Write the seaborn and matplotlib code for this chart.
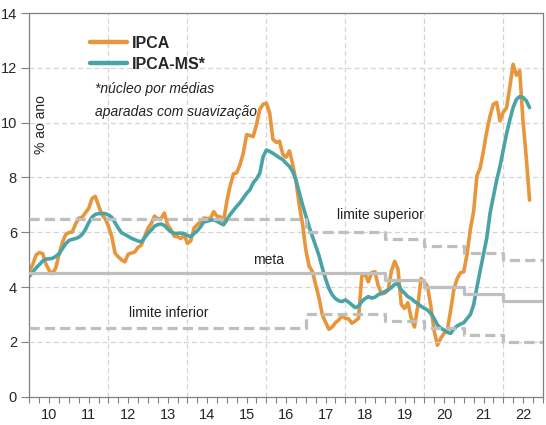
import numpy as np
import pandas as pd
import matplotlib
matplotlib.use("Agg")
import matplotlib.pyplot as plt
import seaborn as sns

# variação em 12 meses (% ao ano), mensal de jan/2010 a set/2022
ipca = [4.59, 4.83, 5.17, 5.26, 5.22, 4.84, 4.60, 4.49, 4.70, 5.20, 5.63, 5.91,
        5.99, 6.01, 6.30, 6.51, 6.55, 6.71, 6.87, 7.23, 7.31, 6.97, 6.64, 6.50,
        6.22, 5.85, 5.24, 5.10, 4.99, 4.92, 5.20, 5.24, 5.28, 5.45, 5.53, 5.84,
        6.15, 6.31, 6.59, 6.49, 6.50, 6.70, 6.27, 6.09, 5.86, 5.84, 5.77, 5.91,
        5.59, 5.68, 6.15, 6.28, 6.37, 6.52, 6.50, 6.51, 6.75, 6.59, 6.56, 6.41,
        7.14, 7.70, 8.13, 8.17, 8.47, 8.89, 9.56, 9.53, 9.49, 9.93, 10.48, 10.67,
        10.71, 10.36, 9.39, 9.28, 9.32, 8.84, 8.74, 8.97, 8.48, 7.87, 6.99, 6.29,
        5.35, 4.76, 4.57, 4.08, 3.60, 3.00, 2.71, 2.46, 2.54, 2.70, 2.80, 2.95,
        2.86, 2.84, 2.68, 2.76, 2.86, 4.39, 4.48, 4.19, 4.53, 4.56, 4.05, 3.75,
        3.78, 3.89, 4.58, 4.94, 4.66, 3.37, 3.22, 3.43, 2.89, 2.54, 3.27, 4.31,
        4.19, 4.01, 3.30, 2.40, 1.88, 2.13, 2.31, 2.44, 3.14, 3.92, 4.31, 4.52,
        4.56, 5.20, 6.10, 6.76, 8.06, 8.35, 8.99, 9.68, 10.25, 10.67, 10.74, 10.06,
        10.38, 10.54, 11.30, 12.13, 11.73, 11.89, 10.07, 8.73, 7.17]

ipca_ms = [4.40, 4.55, 4.70, 4.82, 4.95, 5.02, 5.03, 5.05, 5.12, 5.22, 5.40, 5.58,
           5.70, 5.74, 5.77, 5.82, 5.92, 6.10, 6.35, 6.55, 6.65, 6.68, 6.69, 6.68,
           6.63, 6.55, 6.35, 6.15, 5.98, 5.92, 5.85, 5.78, 5.73, 5.68, 5.65, 5.80,
           5.96, 6.08, 6.22, 6.28, 6.30, 6.25, 6.12, 6.02, 5.96, 5.96, 5.97, 5.95,
           5.88, 5.84, 5.95, 6.05, 6.20, 6.38, 6.40, 6.44, 6.45, 6.40, 6.33, 6.27,
           6.45, 6.65, 6.80, 6.95, 7.08, 7.25, 7.42, 7.55, 7.80, 7.95, 8.15, 8.75,
           9.00, 8.95, 8.88, 8.80, 8.72, 8.65, 8.52, 8.40, 8.22, 7.90, 7.45, 7.00,
           6.60, 6.20, 5.85, 5.50, 5.15, 4.70, 4.30, 3.95, 3.72, 3.58, 3.50, 3.47,
           3.53, 3.45, 3.35, 3.25, 3.30, 3.47, 3.58, 3.65, 3.60, 3.63, 3.72, 3.78,
           3.83, 3.90, 3.98, 4.10, 4.12, 3.90, 3.78, 3.65, 3.58, 3.48, 3.40, 3.30,
           3.23, 3.16, 3.04, 2.85, 2.62, 2.50, 2.43, 2.35, 2.31, 2.48, 2.58, 2.65,
           2.70, 2.85, 3.00, 3.35, 4.00, 4.60, 5.20, 5.80, 6.70, 7.30, 7.90, 8.40,
           9.00, 9.60, 10.10, 10.55, 10.85, 10.95, 10.92, 10.80, 10.55]

# metas de inflação por ano
anos_meta = [2010, 2011, 2012, 2013, 2014, 2015, 2016, 2017, 2018, 2019, 2020, 2021, 2022]
meta = [4.5, 4.5, 4.5, 4.5, 4.5, 4.5, 4.5, 4.5, 4.5, 4.25, 4.0, 3.75, 3.5]
lim_sup = [6.5, 6.5, 6.5, 6.5, 6.5, 6.5, 6.5, 6.0, 6.0, 5.75, 5.5, 5.25, 5.0]
lim_inf = [2.5, 2.5, 2.5, 2.5, 2.5, 2.5, 2.5, 3.0, 3.0, 2.75, 2.5, 2.25, 2.0]

ano_labels = ["10", "11", "12", "13", "14", "15", "16", "17", "18", "19", "20", "21", "22"]
y_ticks = [0, 2, 4, 6, 8, 10, 12, 14]

laranja = "#e8963c"
verde = "#4aa3a6"
cinza = "#bfbfbf"

t = 2010 + np.arange(len(ipca)) / 12
df = pd.DataFrame({
    "t": np.r_[t, t],
    "v": ipca + ipca_ms,
    "serie": ["IPCA"] * len(ipca) + ["IPCA-MS*"] * len(ipca_ms),
})

sns.set_style("white")
plt.rcParams["font.family"] = ["Liberation Sans", "DejaVu Sans"]

fig = plt.figure(figsize=(5.46, 4.25), dpi=100)
ax = fig.add_axes([0.054, 0.0666, 0.94, 0.9028])

# grade tracejada
for y in [2, 4, 6, 8, 10, 12]:
    ax.axhline(y, color="#d4d4d4", lw=0.9, ls=(0, (4, 2.5)), zorder=0)
for x in [2012, 2014, 2016, 2018, 2020, 2022]:
    ax.axvline(x, color="#d4d4d4", lw=0.9, ls=(0, (4, 2.5)), zorder=0)

sns.lineplot(data=df, x="t", y="v", hue="serie", palette=[laranja, verde],
             lw=2.6, ax=ax)
ax.lines[0].set_zorder(3)
ax.lines[1].set_zorder(2)

xs = anos_meta + [2023]
ax.step(xs, lim_sup + lim_sup[-1:], where="post", color=cinza, lw=2.3,
        dashes=(3.2, 1.6), zorder=4)
ax.step(xs, lim_inf + lim_inf[-1:], where="post", color=cinza, lw=2.3,
        dashes=(3.2, 1.6), zorder=4)
ax.step(xs, meta + meta[-1:], where="post", color=cinza, lw=2.3, zorder=4)

ax.text(2017.78, 6.63, "limite superior", fontsize=10, va="center", color="#222222")
ax.text(2015.67, 5.0, "meta", fontsize=10, va="center", color="#222222")
ax.text(2012.53, 3.04, "limite inferior", fontsize=10, va="center", color="#222222")
ax.text(2010.3, 9.92, "% ao ano", fontsize=10, rotation=90, ha="center",
        va="center", color="#222222")
ax.text(2011.66, 11.23, "*núcleo por médias", fontsize=10, style="italic",
        va="center", color="#222222")
ax.text(2011.66, 10.39, "aparadas com suavização", fontsize=10, style="italic",
        va="center", color="#222222")

sns.move_legend(ax, "upper left", bbox_to_anchor=(0.118, 0.94), frameon=False,
                title=None, borderpad=0, borderaxespad=0, handlelength=2.3,
                handletextpad=0.3, labelspacing=0.35,
                prop={"weight": "bold", "size": 11.5})
for h in ax.get_legend().get_lines():
    h.set_linewidth(3.2)

ax.set_xlim(2010, 2023)
ax.set_ylim(0, 14)
ax.set_xlabel("")
ax.set_ylabel("")

# ticks: trimestrais sem rótulo, rótulos no meio do ano
ax.set_xticks(2010 + np.arange(0, 53) / 4)
ax.set_xticklabels([])
ax.set_xticks(np.array(anos_meta) + 0.5, minor=True)
ax.set_xticklabels(ano_labels, minor=True)
ax.xaxis.remove_overlapping_locs = False
ax.tick_params(axis="x", which="major", bottom=True, length=4, width=0.8, color="#808080")
ax.tick_params(axis="x", which="minor", bottom=True, length=0, pad=8, labelsize=10.5)
ax.set_yticks(y_ticks)
ax.tick_params(axis="y", left=True, length=6, width=0.8, color="#808080",
               pad=3, labelsize=10.5)

for s in ax.spines.values():
    s.set_color("#808080")
    s.set_linewidth(0.9)

fig.savefig("out.png", dpi=100)
